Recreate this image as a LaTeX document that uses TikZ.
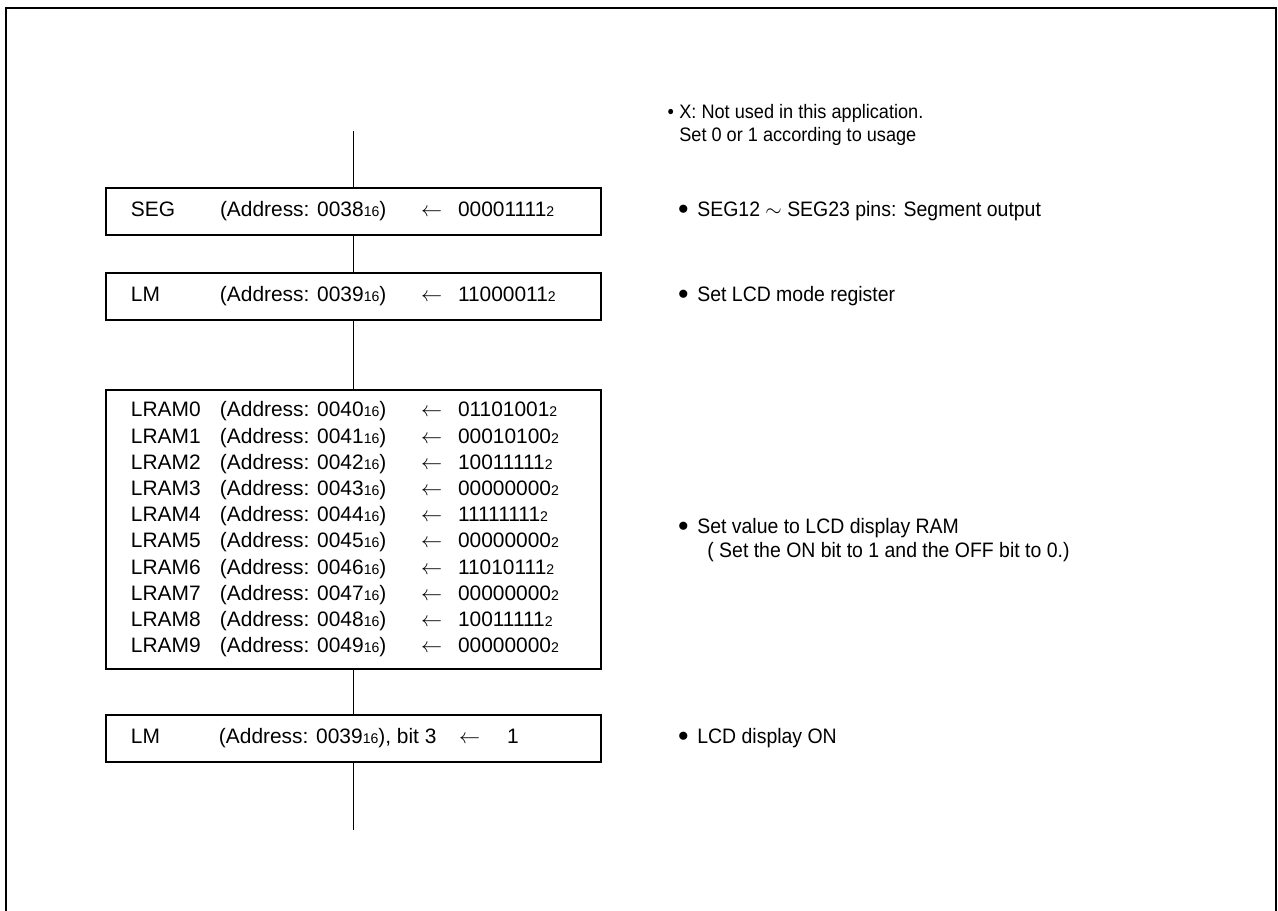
\documentclass[tikz,border=0pt]{standalone}
\usepackage{fontspec}
\setmainfont{Liberation Sans}
\newfontfamily\notefont[FakeStretch=0.93]{Liberation Sans}
\setlength\tabcolsep{0pt}
\newcommand\radix[1]{{\fontsize{8}{8}\selectfont#1}}
\newcommand\la{$\leftarrow$}
\newcommand\dotmark{\raisebox{.1em}{$\bullet$}}
\tikzset{reg/.style={draw,line width=1.1pt,rectangle,minimum width=9.9cm,minimum height=0.94cm,inner xsep=0.5cm,inner ysep=0pt,font=\fontsize{11.9}{14.9}\selectfont},
note/.style={anchor=west,align=left,inner sep=0pt,font=\notefont\fontsize{11.9}{13.6}\selectfont},
ln/.style={line width=1pt}}

\begin{document}
\begin{tikzpicture}[x=0.2mm,y=-0.2mm]
\useasboundingbox (0,0) rectangle (1278,911);
\draw[line width=1.6pt] (6,911) |- (1276,8) -- (1276,911);
% register boxes
\node[reg](seg)at(353.5,211.5){\begin{tabular}{p{1.78cm}p{4.02cm}p{0.74cm}p{2.36cm}}
SEG & (Address: 0038\radix{16}) & \la & 00001111\radix{2}\end{tabular}};
\node[reg](lm)at(353.5,296.5){\begin{tabular}{p{1.78cm}p{4.02cm}p{0.74cm}p{2.36cm}}
LM & (Address: 0039\radix{16}) & \la & 11000011\radix{2}\end{tabular}};
\node[reg,minimum height=5.58cm](lram)at(353.5,529.5){\begin{tabular}{p{1.78cm}p{4.02cm}p{0.74cm}p{2.36cm}}
LRAM0 & (Address: 0040\radix{16}) & \la & 01101001\radix{2}\\
LRAM1 & (Address: 0041\radix{16}) & \la & 00010100\radix{2}\\
LRAM2 & (Address: 0042\radix{16}) & \la & 10011111\radix{2}\\
LRAM3 & (Address: 0043\radix{16}) & \la & 00000000\radix{2}\\
LRAM4 & (Address: 0044\radix{16}) & \la & 11111111\radix{2}\\
LRAM5 & (Address: 0045\radix{16}) & \la & 00000000\radix{2}\\
LRAM6 & (Address: 0046\radix{16}) & \la & 11010111\radix{2}\\
LRAM7 & (Address: 0047\radix{16}) & \la & 00000000\radix{2}\\
LRAM8 & (Address: 0048\radix{16}) & \la & 10011111\radix{2}\\
LRAM9 & (Address: 0049\radix{16}) & \la & 00000000\radix{2}\end{tabular}};
\node[reg](lcdon)at(353.5,738.5){\begin{tabular}{p{1.76cm}p{4.8cm}p{0.96cm}p{1.38cm}}
LM & (Address: 0039\radix{16}), bit 3 & \la & 1\end{tabular}};
% notes
\node[note,font=\notefont\fontsize{11.1}{13.6}\selectfont](nX)at(679,125){\llap{\textbullet\hspace{3pt}}X: Not used in this application.\\Set 0 or 1 according to usage};
\node[note](nseg)at(697,211){\llap{\dotmark\hspace{5pt}}SEG12 $\sim$ SEG23 pins: Segment output};
\node[note](nlm)at(697,296){\llap{\dotmark\hspace{5pt}}Set LCD mode register};
\node[note](nlram)at(697,540){\llap{\dotmark\hspace{5pt}}Set value to LCD display RAM\\\hspace{5.7pt}( Set the ON bit to 1 and the OFF bit to 0.)};
\node[note](non)at(697,738){\llap{\dotmark\hspace{5pt}}LCD display ON};
% flow line
\coordinate(top)at(353.5,131);\coordinate(end)at(353.5,830);
\foreach\a/\b in{top/seg,seg/lm,lm/lram,lram/lcdon,lcdon/end}\draw[ln](\a)--(\b);
\end{tikzpicture}
\end{document}
